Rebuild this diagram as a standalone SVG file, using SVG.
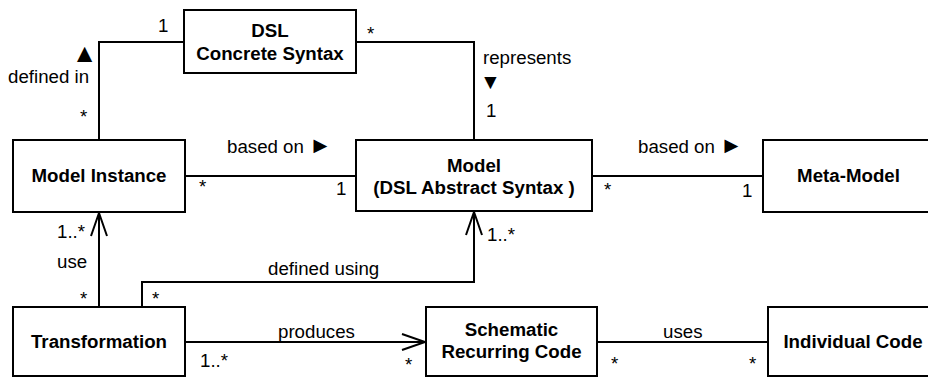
<svg xmlns="http://www.w3.org/2000/svg" width="928" height="377" viewBox="0 0 928 377">
  <style>
    .box { fill: #ffffff; stroke: #000000; stroke-width: 2; }
    .name { font-family: "Liberation Sans", Arial, sans-serif; font-size: 18.7px; font-weight: bold; fill: #000000; text-anchor: middle; }
    .lbl { font-family: "Liberation Sans", Arial, sans-serif; font-size: 18.7px; fill: #000000; }
    .tri { font-size: 26px; }
    .tri2 { font-size: 21px; }
    .ptr { font-size: 23px; }
    .conn { fill: none; stroke: #000000; stroke-width: 2; }
  </style>
  <defs>
    <marker id="open" markerUnits="userSpaceOnUse" markerWidth="30" markerHeight="20" viewBox="-26 -10 30 20" refX="0" refY="0" orient="auto" overflow="visible">
      <path d="M-23,-8 L0,0 L-23,8" fill="none" stroke="#000000" stroke-width="2"/>
    </marker>
  </defs>
  <rect x="0" y="0" width="928" height="377" fill="#ffffff"/>

  <g id="connectors">
    <polyline class="conn" points="99,140 99,42 184,42"/>
    <polyline class="conn" points="356,42 474,42 474,140"/>
    <line class="conn" x1="185" y1="176" x2="356" y2="176"/>
    <line class="conn" x1="592" y1="176" x2="763" y2="176"/>
    <line class="conn" x1="99" y1="307" x2="99" y2="213" marker-end="url(#open)"/>
    <polyline class="conn" points="142,307 142,282 474,282 474,212" marker-end="url(#open)"/>
    <line class="conn" x1="185" y1="342" x2="425" y2="342" marker-end="url(#open)"/>
    <line class="conn" x1="597" y1="342" x2="768" y2="342"/>

    <text class="lbl" x="158" y="32">1</text>
    <text class="lbl" x="367" y="40">*</text>
    <text class="lbl tri" x="84.5" y="62" text-anchor="middle">▲</text>
    <text class="lbl" x="8" y="83">defined in</text>
    <text class="lbl" x="80" y="123">*</text>
    <text class="lbl" x="483" y="64">represents</text>
    <text class="lbl tri2" x="490.5" y="89" text-anchor="middle">▼</text>
    <text class="lbl" x="486" y="117">1</text>
    <text class="lbl" x="227" y="153">based on <tspan class="ptr">►</tspan></text>
    <text class="lbl" x="199" y="193">*</text>
    <text class="lbl" x="336" y="195">1</text>
    <text class="lbl" x="638" y="153">based on <tspan class="ptr">►</tspan></text>
    <text class="lbl" x="604" y="196">*</text>
    <text class="lbl" x="742" y="197">1</text>
    <text class="lbl" x="57" y="238">1..*</text>
    <text class="lbl" x="57" y="268">use</text>
    <text class="lbl" x="80" y="305">*</text>
    <text class="lbl" x="152" y="305">*</text>
    <text class="lbl" x="268" y="275">defined using</text>
    <text class="lbl" x="487" y="241">1..*</text>
    <text class="lbl" x="278" y="338">produces</text>
    <text class="lbl" x="200" y="367">1..*</text>
    <text class="lbl" x="405" y="371">*</text>
    <text class="lbl" x="663" y="338">uses</text>
    <text class="lbl" x="611" y="370">*</text>
    <text class="lbl" x="749" y="370">*</text>
  </g>

  <g id="dsl-concrete-syntax">
    <rect class="box" x="184" y="10" width="172" height="63"/>
    <text class="name" x="270" y="37">DSL</text>
    <text class="name" x="270" y="60">Concrete Syntax</text>
  </g>
  <g id="model-instance">
    <rect class="box" x="13" y="140" width="172" height="72"/>
    <text class="name" x="99" y="182">Model Instance</text>
  </g>
  <g id="model">
    <rect class="box" x="356" y="140" width="236" height="71"/>
    <text class="name" x="474" y="172">Model</text>
    <text class="name" x="474" y="194">(DSL Abstract Syntax )</text>
  </g>
  <g id="meta-model">
    <rect class="box" x="763" y="140" width="175" height="72"/>
    <text class="name" x="848.5" y="182">Meta-Model</text>
  </g>
  <g id="transformation">
    <rect class="box" x="13" y="307" width="172" height="69"/>
    <text class="name" x="99" y="348">Transformation</text>
  </g>
  <g id="schematic-recurring-code">
    <rect class="box" x="426" y="307" width="171" height="69"/>
    <text class="name" x="511.5" y="336">Schematic</text>
    <text class="name" x="511.5" y="358">Recurring Code</text>
  </g>
  <g id="individual-code">
    <rect class="box" x="768" y="307" width="175" height="69"/>
    <text class="name" x="853" y="348">Individual Code</text>
  </g>
</svg>
